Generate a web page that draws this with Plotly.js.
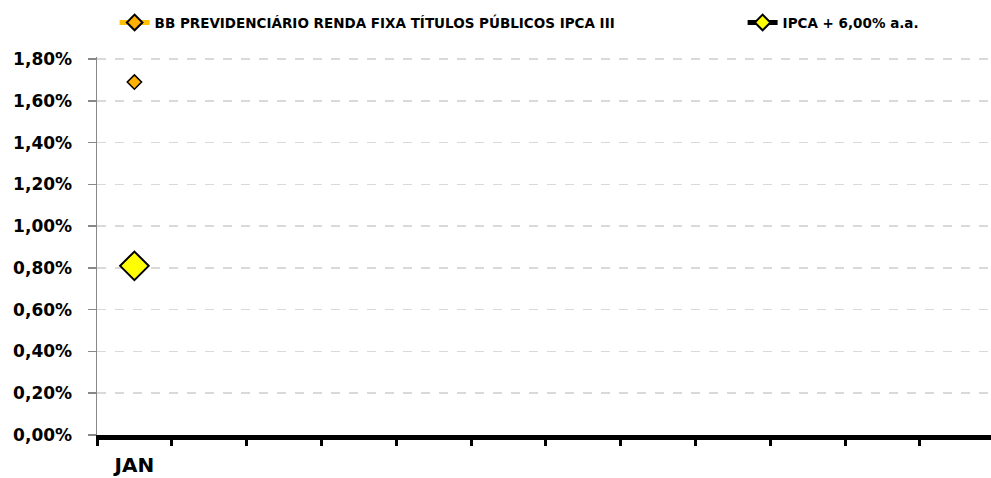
<!DOCTYPE html>
<html><head><meta charset="utf-8">
<script src="https://cdn.plot.ly/plotly-3.0.1.min.js"></script>
<style>html,body{margin:0;padding:0;background:#fff;}#chart{width:991px;height:478px;}</style>
</head><body><div id="chart"></div>
<script>
const months = ["JAN","FEV","MAR","ABR","MAI","JUN","JUL","AGO","SET","OUT","NOV","DEZ"];
const monthLabels = ["JAN","","","","","","","","","","",""];
const seriesNames = ["BB PREVIDENCIÁRIO RENDA FIXA TÍTULOS PÚBLICOS IPCA III","IPCA + 6,00% a.a."];
const fundo = [0.0169,null,null,null,null,null,null,null,null,null,null,null];
const meta = [0.0081,null,null,null,null,null,null,null,null,null,null,null];

const font = "'DejaVu Sans', sans-serif";
const traces = [
  {x: months, y: fundo, name: seriesNames[0], type: "scatter", mode: "lines+markers",
   legendwidth: 583,
   line: {color: "#FFC000", width: 5},
   marker: {symbol: "diamond", size: 11, color: "#FFB000", line: {color: "#000", width: 1.5}}},
  {x: months, y: meta, name: seriesNames[1], type: "scatter", mode: "lines+markers",
   legendwidth: 140,
   line: {color: "#000", width: 5},
   marker: {symbol: "diamond", size: 22, color: "#FFFF00", line: {color: "#000", width: 2}}}
];
const layout = {
  width: 991, height: 478,
  margin: {l: 97, r: 0, t: 57, b: 43},
  paper_bgcolor: "#fff", plot_bgcolor: "#fff",
  separators: ",.",
  font: {family: font, color: "#000"},
  showlegend: true,
  legend: {orientation: "h", x: 0.0197, xanchor: "left", y: 0.985, yanchor: "top",
           yref: "container",
           font: {family: font, size: 13.5, weight: "bold", color: "#000"},
           itemsizing: "constant", tracegroupgap: 0},
  xaxis: {type: "category", categoryorder: "array", categoryarray: months,
          tickmode: "array", tickvals: months, ticktext: monthLabels,
          tickson: "boundaries", range: [-0.5, 11.45],
          showline: true, linecolor: "#000", linewidth: 5,
          ticks: "outside", ticklen: 6, tickwidth: 3, tickcolor: "#000",
          showgrid: false, zeroline: false,
          ticklabelstandoff: 8,
          tickfont: {family: font, size: 20, weight: "bold", color: "#000"}},
  yaxis: {range: [0, 0.0181], dtick: 0.002, tick0: 0, tickformat: ".2%",
          showline: true, linecolor: "#888", linewidth: 1.5,
          ticks: "outside", ticklen: 8, tickwidth: 1.5, tickcolor: "#888",
          showgrid: true, gridcolor: "#D9D9D9", gridwidth: 1.5, griddash: "dash",
          zeroline: false, ticklabelstandoff: 12,
          tickfont: {family: font, size: 17, weight: "bold", color: "#000"}}
};
Plotly.newPlot("chart", traces, layout, {displayModeBar: false, staticPlot: true});
</script></body></html>
